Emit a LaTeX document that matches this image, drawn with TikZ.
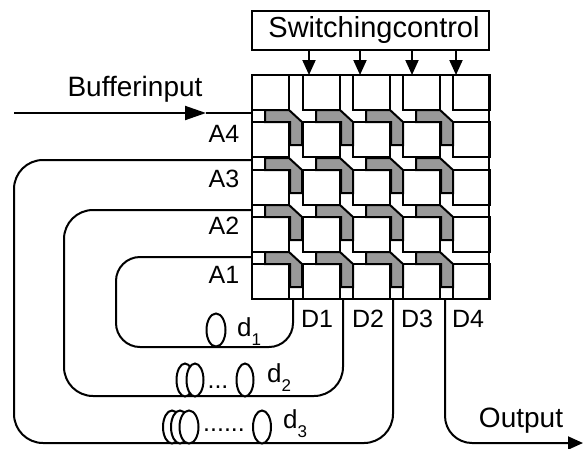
\documentclass[tikz,border=0pt]{standalone}
\usepackage{fontspec}
\setmainfont{Liberation Sans}
\usetikzlibrary{shapes,arrows.meta,positioning}
\tikzset{
    cellbox/.style={rectangle, draw, line width=2pt, anchor=north west, minimum width=36.5pt, minimum height=35pt, inner sep=0pt, outer sep=0pt},
    ctrlarrow/.style={line width=2pt, -{Triangle[length=15pt,width=13pt]}},
    fiberline/.style={line width=2pt, rounded corners=29pt},
    fiberturn/.style={ellipse, draw, line width=2pt, fill=white, minimum width=17pt, minimum height=33pt, inner sep=0pt},
    lbl/.style={font=\fontsize{25}{25}\selectfont, inner sep=0pt, anchor=base},
    widelbl/.style={font=\fontsize{28}{28}\selectfont, inner sep=0pt, anchor=base},
    dlbl/.style={font=\fontsize{26}{26}\selectfont, inner sep=0pt, anchor=base west}
}
\newcommand{\lowidx}[1]{\raisebox{-9pt}{\fontsize{17}{17}\selectfont #1}}

\begin{document}
\begin{tikzpicture}[x=1pt, y=-1pt]
    \useasboundingbox (0,0) rectangle (583,448);

    % crossbar cells
    \foreach \x in {252,303,353,403,453}
        \foreach \y in {75,122,170,217,264}
            \node [cellbox] (cell-\x-\y) at (\x,\y) {};

    % gray switching paths
    \foreach \x in {252,303,353,403}
        \foreach \y in {122,170,217,264}
            \draw [line width=2pt, fill=gray!80] (\x+13,\y-12) -- (\x+37,\y-12) -- (\x+50,\y) -- (\x+50,\y+23) -- (\x+38,\y+23) -- (\x+38,\y) -- (\x+13,\y) -- cycle;

    \node [rectangle, draw, line width=2pt, anchor=north west, minimum width=237pt, minimum height=224pt, outer sep=0pt] (frame) at (252,75) {};

    % switching control
    \node [rectangle, draw, line width=2pt, minimum width=237pt, minimum height=39pt, outer sep=0pt] (ctrl) at (370.5,30.5) {};
    \node [widelbl, font=\fontsize{29}{29}\selectfont] (ctrltext) at (374,37) {Switchingcontrol};
    \foreach \x in {309,360,412,456} {
        \coordinate (ctrlout-\x) at (ctrl.south -| \x,0);
        \coordinate (ctrlin-\x) at (frame.north -| \x,0);
        \draw [ctrlarrow] (ctrlout-\x) -- (ctrlin-\x);
    }

    % input side
    \coordinate (inp) at (14,113);
    \coordinate (inmid) at (206,113);
    \coordinate (a4) at (252,113);
    \coordinate (a3) at (252,160);
    \coordinate (a2) at (252,210);
    \coordinate (a1) at (252,257);
    \draw [line width=2pt, -{Triangle[length=21pt,width=14pt]}] (inp) -- (inmid);
    \draw [line width=2pt] (inmid) -- (a4);
    \node [widelbl] (bufin) at (135,96) {Bufferinput};
    \node [lbl] (labA4) at (224,142) {A4};
    \node [lbl] (labA3) at (224,187) {A3};
    \node [lbl] (labA2) at (224,234) {A2};
    \node [lbl] (labA1) at (224,283) {A1};

    % output side
    \coordinate (d1) at (293,299);
    \coordinate (d2) at (343,299);
    \coordinate (d3) at (393,299);
    \coordinate (d4) at (445,299);
    \coordinate (low1) at (116,347);
    \coordinate (low2) at (64,396);
    \coordinate (low3) at (14,443);
    \coordinate (outp) at (583,443);
    \node [lbl] (labD1) at (317,327) {D1};
    \node [lbl] (labD2) at (368,327) {D2};
    \node [lbl] (labD3) at (417,327) {D3};
    \node [lbl] (labD4) at (468,327) {D4};
    \node [widelbl] (outtext) at (521,427) {Output};

    % delay lines
    \draw [fiberline, rounded corners=24pt] (a1) -| (low1) -| (d1);
    \draw [fiberline] (a2) -| (low2) -| (d2);
    \draw [fiberline] (a3) -| (low3) -| (d3);
    \draw [line width=2pt, rounded corners=27pt, -{Triangle[length=15pt,width=13pt]}] (d4) |- (outp);

    % fiber turns
    \node [fiberturn, minimum width=19pt] (t1) at (216,330) {};
    \node [dlbl] (labd1) at (237,336) {d\lowidx{1}};

    \node [fiberturn] (t2a) at (185,380) {};
    \node [fiberturn] (t2b) at (195,380) {};
    \node [fiberturn] (t2c) at (245,380) {};
    \node [lbl] (dots2) at (218,388) {...};
    \node [dlbl] (labd2) at (267,382) {d\lowidx{2}};

    \node [fiberturn, minimum width=18pt] (t3a) at (172,427) {};
    \node [fiberturn, minimum width=18pt] (t3b) at (180,427) {};
    \node [fiberturn, minimum width=19pt] (t3c) at (189,427) {};
    \node [fiberturn, minimum width=18pt] (t3d) at (262,427) {};
    \node [lbl] (dots3) at (224,431) {......};
    \node [dlbl] (labd3) at (283,428) {d\lowidx{3}};
\end{tikzpicture}
\end{document}
